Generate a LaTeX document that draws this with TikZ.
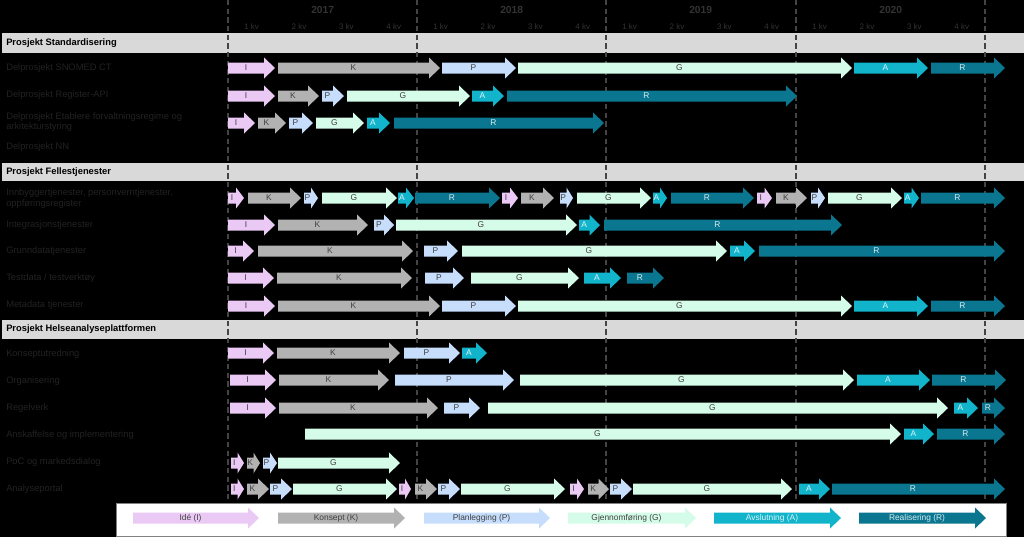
\documentclass[tikz,border=0pt]{standalone}
\usepackage{fontspec}
\setmainfont{Liberation Sans}

\definecolor{cI}{HTML}{EBC9F5}
\definecolor{cK}{HTML}{B2B2B2}
\definecolor{cP}{HTML}{C6DDFB}
\definecolor{cG}{HTML}{D5FBE9}
\definecolor{cA}{HTML}{12B4CB}
\definecolor{cR}{HTML}{0B7690}
\definecolor{tI}{HTML}{404040}
\definecolor{tK}{HTML}{404040}
\definecolor{tP}{HTML}{404040}
\definecolor{tG}{HTML}{404040}
\definecolor{tA}{HTML}{DDF4F8}
\definecolor{tR}{HTML}{D6EBF0}
\definecolor{bandgray}{HTML}{D9D9D9}
\definecolor{hdrgray}{HTML}{333333}
\definecolor{radgray}{HTML}{222222}
\definecolor{linegray}{HTML}{444444}

\tikzset{
  fasetxt/.style={font=\fontsize{6.3}{7}\selectfont, inner sep=0pt},
  radtxt/.style={anchor=west, text=radgray, align=left, inner sep=0pt,
    font=\fontsize{7}{8}\selectfont},
  band/.style={fill=bandgray},
  bandtxt/.style={anchor=west, inner sep=0pt, font=\bfseries\fontsize{7}{8}\selectfont},
  aar/.style={text=hdrgray, font=\bfseries\fontsize{7.7}{9}\selectfont},
  kv/.style={text=hdrgray, font=\fontsize{6}{7}\selectfont},
  tidslinje/.style={draw=linegray, line width=0.8pt, dash pattern=on 4pt off 2.5pt},
}

% fase: name, letter, x1, x2, y, text
\newcommand\fase[6]{%
  \pgfmathsetmacro\hodelen{min(11,0.5*(#4-#3))}
  \fill[fill=c#2] (#3,#5-5.5) -- ({#4-\hodelen},#5-5.5) -- ({#4-\hodelen},#5-10.5)
    -- (#4,#5) -- ({#4-\hodelen},#5+10.5) -- ({#4-\hodelen},#5+5.5) -- (#3,#5+5.5) -- cycle;
  \node[fasetxt, text=t#2] (#1) at ({(#3+#4-\hodelen)/2},#5) {#6};
}
% rad: name, y, list of letter/x1/x2
\newcommand\rad[3]{\foreach \f/\a/\b [count=\i] in {#3}{\fase{#1-\i}{\f}{\a}{\b}{#2}{\f}}}

\begin{document}
\begin{tikzpicture}[x=0.75pt,y=-0.75pt]
\useasboundingbox (0,0) rectangle (1024,537);
\fill[black] (0,0) rectangle (1024,537);

% prosjekter
\fill[band] (2,33) rectangle (1024,53);
\node[bandtxt] (std) at (6,43) {Prosjekt Standardisering};
\fill[band] (2,163) rectangle (1024,181);
\node[bandtxt] (felles) at (6,172) {Prosjekt Fellestjenester};
\fill[band] (2,320) rectangle (1024,339);
\node[bandtxt] (helse) at (6,329.5) {Prosjekt Helseanalyseplattformen};

% tidslinje
\foreach \x/\aar [count=\i] in {228/2017,417/2018,606/2019,796/2020}{
  \node[aar] (aar\i) at (\x+94.7,10) {\aar};
  \foreach \q in {1,...,4}
    \node[kv] (kv\i\q) at (\x+47.35*\q-23.7,26.5) {\q{} kv};
}
\foreach \x in {228,417,606,796,985}
  \draw[tidslinje] (\x,0) -- (\x,500);

% delprosjekter
\node[radtxt] (snomed) at (6,68) {Delprosjekt SNOMED CT};
\node[radtxt] (regapi) at (6,95.5) {Delprosjekt Register-API};
\node[radtxt] (etabl) at (6,122) {Delprosjekt Etablere forvaltningsregime og\\arkitekturstyring};
\node[radtxt] (nn) at (6,147.5) {Delprosjekt NN};
\node[radtxt] (innb) at (6,198.5) {Innbyggertjenester, personverntjenester,\\oppføringsregister};
\node[radtxt] (integ) at (6,225) {Integrasjonstjenester};
\node[radtxt] (grunn) at (6,251.5) {Grunndatatjenester};
\node[radtxt] (test) at (6,278) {Testdata / testverktøy};
\node[radtxt] (meta) at (6,305) {Metadata tjenester};
\node[radtxt] (konsept) at (6,354.5) {Konseptutredning};
\node[radtxt] (org) at (6,381) {Organisering};
\node[radtxt] (regel) at (6,408) {Regelverk};
\node[radtxt] (anskaff) at (6,435) {Anskaffelse og implementering};
\node[radtxt] (poc) at (6,462) {PoC og markedsdialog};
\node[radtxt] (portal) at (6,489) {Analyseportal};

% faser
\rad{snomed}{68}{I/228/275,K/278/440,P/442/516,G/518/852,A/854/928,R/931/1005}
\rad{regapi}{96}{I/228/275,K/278/319,P/322/344,G/347/470,A/472/504,R/507/797}
\rad{etabl}{123}{I/228/255,K/258/286,P/289/313,G/316/364,A/367/390,R/394/604}
\rad{innb}{198}{I/228/244,K/248/301,P/304/318,G/322/397,A/398/414,R/415/500,
  I/502/518,K/521/554,P/560/573,G/577/651,A/653/667,R/671/754,
  I/757/772,K/776/807,P/811/825,G/828/902,A/904/919,R/921/1005}
\rad{integ}{225}{I/228/275,K/278/368,P/374/394,G/396/577,A/579/600,R/604/842}
\rad{grunn}{251}{I/228/254,K/258/413,P/424/458,G/462/727,A/730/755,R/759/1005}
\rad{test}{278}{I/228/274,K/277/412,P/425/464,G/471/579,A/584/621,R/627/664}
\rad{meta}{306}{I/228/275,K/278/440,P/442/516,G/518/852,A/854/928,R/931/1005}
\rad{konsept}{353}{I/228/274,K/277/400,P/404/460,A/462/487}
\rad{org}{380}{I/230/276,K/279/389,P/395/514,G/520/854,A/857/930,R/932/1006}
\rad{regel}{408}{I/230/276,K/279/438,P/444/480,G/488/948,A/954/978,R/982/1005}
\rad{anskaff}{434}{G/305/901,A/904/934,R/937/1005}
\rad{poc}{463}{I/231/244,K/247/260,P/263/277,G/278/400}
\rad{portal}{489}{I/231/244,K/247/269,P/270/292,G/293/397,I/399/411,K/415/437,P/438/460,
  G/461/565,I/570/584,K/588/609,P/610/632,G/633/792,A/799/830,R/832/1005}

% forklaring
\filldraw[fill=white, draw=gray] (116,503) rectangle (1006,536.5);
\fase{idé}{I}{133}{259}{518}{Idé (I)}
\fase{konseptK}{K}{278}{405}{518}{Konsept (K)}
\fase{plan}{P}{424}{550}{518}{Planlegging (P)}
\fase{gjenn}{G}{568}{696}{518}{Gjennomføring (G)}
\fase{avsl}{A}{714}{841}{518}{Avslutning (A)}
\fase{real}{R}{859}{986}{518}{Realisering (R)}
\end{tikzpicture}
\end{document}
